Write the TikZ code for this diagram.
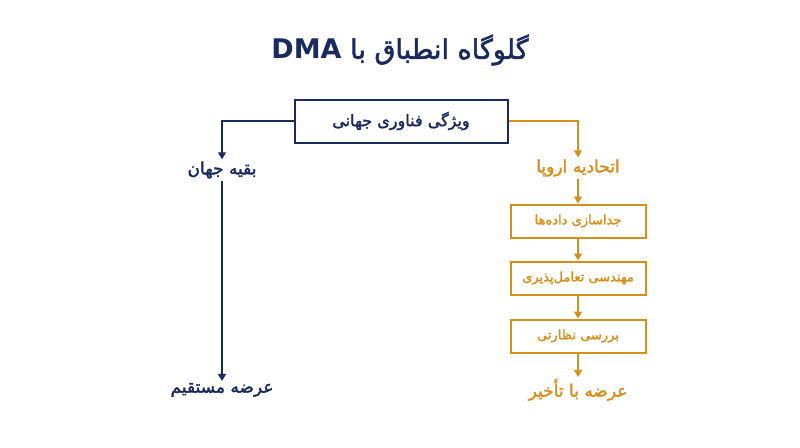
\documentclass[tikz,border=0pt]{standalone}
\usepackage{fontspec}
\usepackage{tikz}
\usetikzlibrary{arrows.meta,positioning}
\setmainfont{DejaVu Sans}
\newfontfamily\fa[Script=Arabic,Renderer=HarfBuzz,BoldFont={DejaVu Sans},BoldFeatures={FakeBold=2}]{DejaVu Sans}
\TeXXeTstate=1
\newcommand{\fatxt}[1]{{\fa\bfseries\beginR #1\endR}}
\definecolor{navy}{HTML}{1B2A5E}
\definecolor{gold}{HTML}{D4901E}
\begin{document}
\begin{tikzpicture}[x=1pt,y=-1pt,
  lab/.style={inner sep=2pt,font=\fontsize{17}{20}\selectfont},
  stepbox/.style={draw=gold,line width=2pt,minimum width=135pt,minimum height=33pt,text=gold,font=\fontsize{13}{15}\selectfont},
  link/.style={line width=1.6pt,-{Triangle[length=7pt,width=8pt]}}]
\useasboundingbox[fill=white] (0,0) rectangle (800,447);

\node[text=navy,font=\fontsize{27}{31}\selectfont] (title) at (400,50) {{\fa\bfseries\beginR گلوگاه انطباق با {\normalfont\bfseries DMA}\endR}};

\node[draw=navy,line width=2pt,minimum width=213pt,minimum height=43pt,text=navy,font=\fontsize{16}{19}\selectfont] (feat) at (401,121) {\fatxt{ویژگی فناوری جهانی}};

% left branch
\node[lab,text=navy] (rest) at (222,170) {\fatxt{بقیه جهان}};
\node[lab,text=navy] (direct) at (222,390) {\fatxt{عرضه مستقیم}};
\draw[link,navy] (feat.west) -| (rest.north);
\draw[link,navy] (rest.south) -- (direct.north);

% right branch
\node[lab,text=gold] (eu) at (578,168) {\fatxt{اتحادیه اروپا}};
\node[stepbox] (sep) at (578,221) {\fatxt{جداسازی داده‌ها}};
\node[stepbox] (eng) at (578,278) {\fatxt{مهندسی تعامل‌پذیری}};
\node[stepbox] (rev) at (578,336) {\fatxt{بررسی نظارتی}};
\node[lab,text=gold] (late) at (578,390) {\fatxt{عرضه با تأخیر}};
\draw[link,gold] (feat.east) -| (eu.north);
\draw[link,gold] (eu.south) -- (sep.north);
\draw[link,gold] (sep.south) -- (eng.north);
\draw[link,gold] (eng.south) -- (rev.north);
\draw[link,gold] (rev.south) -- (late.north);
\end{tikzpicture}
\end{document}
